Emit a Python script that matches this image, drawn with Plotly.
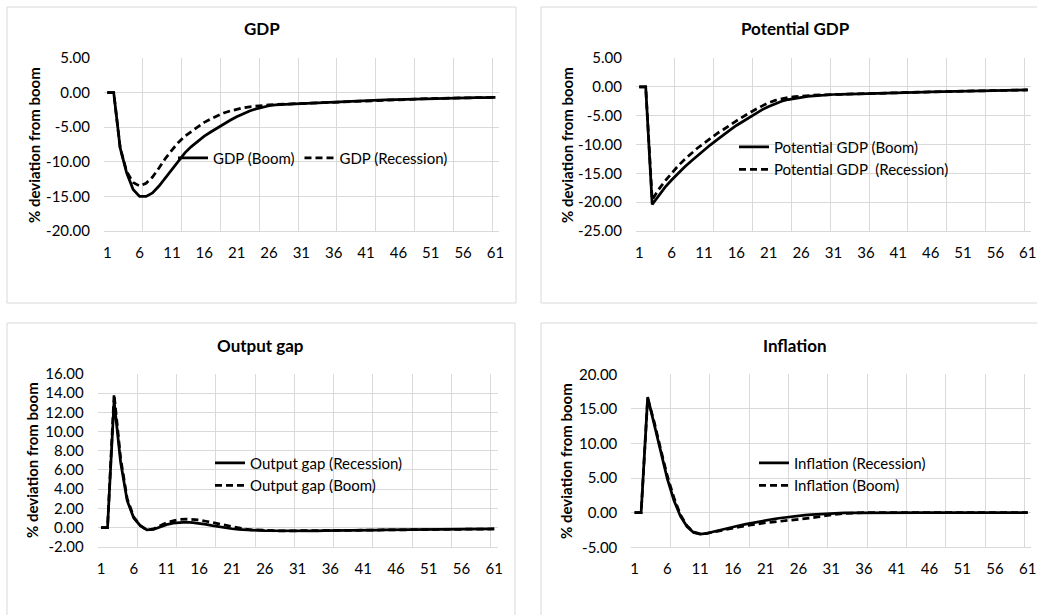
import plotly.graph_objects as go

W, H = 1037, 615

# ---------------- data ----------------
periods = list(range(1, 62))
x_tick_vals = [1, 6, 11, 16, 21, 26, 31, 36, 41, 46, 51, 56, 61]
x_tick_text = ["1", "6", "11", "16", "21", "26", "31", "36", "41", "46", "51", "56", "61"]
x_grid_vals = [0.5, 6.5, 12.5, 18.5, 24.5, 30.5, 36.5, 42.5, 48.5, 54.5, 60.5]

gdp_boom = [0.00, 0.00, -8.00, -11.60, -14.00, -15.00, -15.00, -14.50, -13.50, -12.30,
            -11.10, -9.80, -8.70, -7.80, -7.00, -6.30, -5.70, -5.10, -4.50, -4.00,
            -3.50, -3.05, -2.65, -2.35, -2.10, -1.90, -1.78, -1.70, -1.65, -1.62,
            -1.59, -1.54, -1.49, -1.44, -1.40, -1.36, -1.31, -1.27, -1.23, -1.19,
            -1.15, -1.12, -1.09, -1.06, -1.03, -1.00, -0.97, -0.94, -0.91, -0.88,
            -0.86, -0.84, -0.82, -0.80, -0.78, -0.76, -0.75, -0.73, -0.72, -0.70, -0.69]
gdp_recession = [0.00, 0.00, -8.00, -11.40, -13.00, -13.50, -13.10, -12.20, -10.90, -9.50,
                 -8.30, -7.20, -6.30, -5.60, -4.90, -4.30, -3.80, -3.35, -2.95, -2.65,
                 -2.40, -2.20, -2.05, -1.93, -1.84, -1.77, -1.72, -1.68, -1.65, -1.62,
                 -1.59, -1.54, -1.49, -1.44, -1.40, -1.36, -1.31, -1.27, -1.23, -1.19,
                 -1.15, -1.12, -1.09, -1.06, -1.03, -1.00, -0.97, -0.94, -0.91, -0.88,
                 -0.86, -0.84, -0.82, -0.80, -0.78, -0.76, -0.75, -0.73, -0.72, -0.70, -0.69]

pot_boom = [0.00, 0.00, -20.40, -18.80, -17.40, -16.15, -15.00, -13.90, -12.90, -11.90,
            -11.00, -10.05, -9.20, -8.30, -7.50, -6.70, -6.00, -5.25, -4.55, -3.95,
            -3.40, -2.90, -2.50, -2.20, -2.00, -1.80, -1.65, -1.55, -1.45, -1.38,
            -1.33, -1.29, -1.25, -1.22, -1.19, -1.16, -1.13, -1.10, -1.07, -1.04,
            -1.01, -0.98, -0.95, -0.93, -0.90, -0.88, -0.85, -0.83, -0.80, -0.78,
            -0.76, -0.73, -0.71, -0.69, -0.66, -0.64, -0.62, -0.60, -0.57, -0.55, -0.53]
pot_recession = [0.00, 0.00, -19.60, -17.80, -16.30, -14.90, -13.70, -12.60, -11.60, -10.60,
                 -9.80, -8.90, -8.10, -7.40, -6.60, -5.90, -5.20, -4.50, -3.90, -3.30,
                 -2.75, -2.35, -2.05, -1.85, -1.70, -1.58, -1.50, -1.44, -1.40, -1.36,
                 -1.33, -1.29, -1.25, -1.22, -1.19, -1.16, -1.13, -1.10, -1.07, -1.04,
                 -1.01, -0.98, -0.95, -0.93, -0.90, -0.88, -0.85, -0.83, -0.80, -0.78,
                 -0.76, -0.73, -0.71, -0.69, -0.66, -0.64, -0.62, -0.60, -0.57, -0.55, -0.53]

gap_recession = [0.00, 0.00, 13.20, 6.80, 2.80, 1.00, 0.20, -0.25, -0.20, 0.05,
                 0.30, 0.45, 0.52, 0.55, 0.52, 0.45, 0.33, 0.20, 0.07, -0.05,
                 -0.13, -0.20, -0.25, -0.28, -0.30, -0.32, -0.33, -0.34, -0.35, -0.35,
                 -0.35, -0.35, -0.34, -0.34, -0.33, -0.33, -0.32, -0.31, -0.30, -0.29,
                 -0.28, -0.27, -0.26, -0.25, -0.24, -0.23, -0.22, -0.22, -0.21, -0.20,
                 -0.20, -0.19, -0.18, -0.18, -0.17, -0.17, -0.16, -0.16, -0.15, -0.15, -0.15]
gap_boom = [0.00, 0.00, 13.90, 7.20, 3.00, 1.10, 0.20, -0.25, -0.15, 0.20,
            0.50, 0.70, 0.83, 0.88, 0.86, 0.78, 0.65, 0.50, 0.35, 0.20,
            0.05, -0.07, -0.17, -0.24, -0.28, -0.31, -0.33, -0.34, -0.35, -0.35,
            -0.35, -0.35, -0.34, -0.34, -0.33, -0.33, -0.32, -0.31, -0.30, -0.29,
            -0.28, -0.27, -0.26, -0.25, -0.24, -0.23, -0.22, -0.22, -0.21, -0.20,
            -0.20, -0.19, -0.18, -0.18, -0.17, -0.17, -0.16, -0.16, -0.15, -0.15, -0.15]

infl_recession = [0.00, 0.00, 16.70, 12.70, 8.60, 4.90, 1.80, -0.50, -2.00, -2.85,
                  -3.10, -3.00, -2.75, -2.50, -2.27, -2.05, -1.85, -1.65, -1.45, -1.25,
                  -1.08, -0.95, -0.80, -0.67, -0.55, -0.45, -0.36, -0.28, -0.21, -0.15,
                  -0.10, -0.06, -0.03, -0.01, 0.00, 0.00, 0.00, 0.00, 0.00, 0.00,
                  0.00, 0.00, 0.00, 0.00, 0.00, 0.00, 0.00, 0.00, 0.00, 0.00,
                  0.00, 0.00, 0.00, 0.00, 0.00, 0.00, 0.00, 0.00, 0.00, 0.00, 0.00]
infl_boom = [0.00, 0.00, 16.50, 13.10, 9.10, 5.30, 2.20, -0.30, -1.90, -2.80,
             -3.05, -3.00, -2.80, -2.60, -2.35, -2.20, -2.05, -1.88, -1.72, -1.55,
             -1.45, -1.37, -1.28, -1.18, -1.07, -0.96, -0.85, -0.74, -0.60, -0.45,
             -0.32, -0.20, -0.11, -0.05, -0.02, 0.00, 0.00, 0.00, 0.00, 0.00,
             0.00, 0.00, 0.00, 0.00, 0.00, 0.00, 0.00, 0.00, 0.00, 0.00,
             0.00, 0.00, 0.00, 0.00, 0.00, 0.00, 0.00, 0.00, 0.00, 0.00, 0.00]

for s in (gdp_boom, gdp_recession, pot_boom, pot_recession, gap_recession, gap_boom,
          infl_recession, infl_boom):
    assert len(s) == 61, len(s)

gdp_y_ticks = [5, 0, -5, -10, -15, -20]
pot_y_ticks = [5, 0, -5, -10, -15, -20, -25]
gap_y_ticks = [16, 14, 12, 10, 8, 6, 4, 2, 0, -2]
infl_y_ticks = [20, 15, 10, 5, 0, -5]

titles = ["GDP", "Potential GDP", "Output gap", "Inflation"]
y_title = "% deviation from boom"

# ---------------- styling ----------------
FONT = "Lato"
TXT = "#000000"
GRID = "#D9D9D9"
LW = 2.75
SOLID = dict(color="#000000", width=LW)
DASHED = dict(color="#000000", width=LW, dash="7px,4px")


def px(x):
    return x / W


def py(y):
    return 1 - y / H


# plot-area boxes in pixels: (left, right, top, bottom)
boxes = [
    (104.0, 498.7, 58.0, 231.0),
    (636.0, 1031.0, 58.0, 231.0),
    (97.7, 497.5, 374.0, 546.7),
    (631.3, 1031.0, 374.3, 547.3),
]
yticks_all = [gdp_y_ticks, pot_y_ticks, gap_y_ticks, infl_y_ticks]

fig = go.Figure()

series = [
    (1, gdp_boom, "GDP (Boom)", SOLID),
    (1, gdp_recession, "GDP (Recession)", DASHED),
    (2, pot_boom, "Potential GDP (Boom)", SOLID),
    (2, pot_recession, "Potential GDP\u00a0 (Recession)", DASHED),
    (3, gap_recession, "Output gap (Recession)", SOLID),
    (3, gap_boom, "Output gap (Boom)", DASHED),
    (4, infl_recession, "Inflation (Recession)", SOLID),
    (4, infl_boom, "Inflation (Boom)", DASHED),
]
for k, ys, name, line in series:
    suf = "" if k == 1 else str(k)
    fig.add_trace(go.Scatter(
        x=periods, y=ys, mode="lines", name=name, line=line,
        xaxis="x" + suf, yaxis="y" + suf, legend="legend" + suf,
        hoverinfo="skip",
    ))

layout = dict(
    template="none",
    width=W, height=H, autosize=False,
    margin=dict(l=0, r=0, t=0, b=0, pad=0, autoexpand=False),
    paper_bgcolor="white", plot_bgcolor="white",
    font=dict(family=FONT, size=15, color=TXT),
    shapes=[], annotations=[],
)

for i, (l, r, t, b) in enumerate(boxes):
    suf = "" if i == 0 else str(i + 1)
    yt = yticks_all[i]
    layout["xaxis" + suf] = dict(
        domain=[px(l), px(r)], anchor="y" + suf, automargin=False,
        range=[0.5, 61.5], fixedrange=True,
        tickmode="array", tickvals=x_tick_vals, ticktext=x_tick_text,
        showgrid=False, zeroline=False, showline=True, linecolor=GRID, linewidth=1,
        ticks="", ticklabelstandoff=8,
        tickfont=dict(family=FONT, size=15, color=TXT),
        minor=dict(tickmode="array", tickvals=x_grid_vals, showgrid=True,
                   gridcolor=GRID, gridwidth=1, ticks=""),
    )
    layout["yaxis" + suf] = dict(
        domain=[py(b), py(t)], anchor="x" + suf, automargin=False,
        range=[min(yt), max(yt)], fixedrange=True,
        tickmode="array", tickvals=yt, ticktext=[f"{v:.2f}" for v in yt],
        showgrid=True, gridcolor=GRID, gridwidth=1, zeroline=False,
        showline=False, ticks="", ticklabelstandoff=13,
        tickfont=dict(family=FONT, size=15, color=TXT),
    )

# chart-area borders (Excel chart frames)
frames = [(7, 516, 7, 303), (541, 1050, 7, 303), (7, 515, 323, 625), (541, 1050, 323, 625)]
for (x0, x1, y0, y1) in frames:
    layout["shapes"].append(dict(
        type="rect", xref="paper", yref="paper",
        x0=px(x0), x1=px(x1), y0=py(y1), y1=py(y0),
        line=dict(color=GRID, width=1), fillcolor="rgba(0,0,0,0)", layer="below",
    ))

# chart titles and y-axis titles
title_pos = [(261.5, 29), (795, 29), (260, 345), (795, 345)]
ytitle_pos = [(34, 145), (567, 145), (32, 460), (566, 461)]
for i in range(4):
    tx, ty = title_pos[i]
    layout["annotations"].append(dict(
        text="<b>" + titles[i] + "</b>", x=px(tx), y=py(ty), xref="paper", yref="paper",
        xanchor="center", yanchor="middle", showarrow=False,
        font=dict(family=FONT, size=17, color=TXT),
    ))
    ax, ay = ytitle_pos[i]
    layout["annotations"].append(dict(
        text="<b>" + y_title + "</b>", x=px(ax), y=py(ay), xref="paper", yref="paper",
        xanchor="center", yanchor="middle", showarrow=False, textangle=-90,
        font=dict(family=FONT, size=15, color=TXT),
    ))

# legends (inside plot areas)
legend_pos = [(173, 158, "h"), (734, 158, "v"), (210, 474, "v"), (754, 474, "v")]
for i, (lx, ly, orient) in enumerate(legend_pos):
    suf = "" if i == 0 else str(i + 1)
    layout["legend" + suf] = dict(
        x=px(lx), y=py(ly), xref="paper", yref="paper",
        xanchor="left", yanchor="middle", orientation=orient,
        bgcolor="rgba(0,0,0,0)", borderwidth=0,
        font=dict(family=FONT, size=15, color=TXT),
        itemclick=False, itemdoubleclick=False,
    )

fig.update_layout(**layout)
fig.update_layout(showlegend=True)

css_fix = (
    "document.documentElement.style.margin='0';"
    "document.documentElement.style.padding='0';"
    "document.documentElement.style.overflow='hidden';"
    "document.body.style.margin='0';"
    "document.body.style.padding='0';"
    "document.body.style.overflow='hidden';"
)
fig.write_html("out.html", config={"displayModeBar": False}, post_script=css_fix)
